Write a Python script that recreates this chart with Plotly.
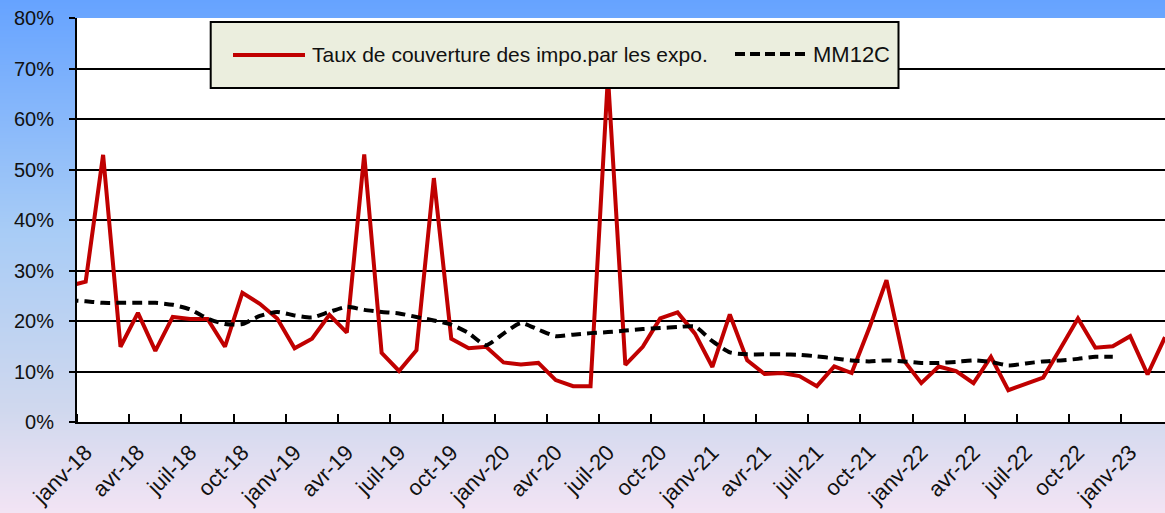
import base64
import struct
import zlib

import plotly.graph_objects as go

# ---- data -------------------------------------------------------------
mois = [
    "déc-17",
    "janv-18", "févr-18", "mars-18", "avr-18", "mai-18", "juin-18",
    "juil-18", "août-18", "sept-18", "oct-18", "nov-18", "déc-18",
    "janv-19", "févr-19", "mars-19", "avr-19", "mai-19", "juin-19",
    "juil-19", "août-19", "sept-19", "oct-19", "nov-19", "déc-19",
    "janv-20", "févr-20", "mars-20", "avr-20", "mai-20", "juin-20",
    "juil-20", "août-20", "sept-20", "oct-20", "nov-20", "déc-20",
    "janv-21", "févr-21", "mars-21", "avr-21", "mai-21", "juin-21",
    "juil-21", "août-21", "sept-21", "oct-21", "nov-21", "déc-21",
    "janv-22", "févr-22", "mars-22", "avr-22", "mai-22", "juin-22",
    "juil-22", "août-22", "sept-22", "oct-22", "nov-22", "déc-22",
    "janv-23", "févr-23", "mars-23",
]

# Taux de couverture des importations par les exportations (%)
taux = [
    26.9,
    27.8, 52.9, 14.9, 21.6, 14.1, 20.8, 20.4, 20.4, 14.9, 25.6, 23.4, 20.5,
    14.6, 16.5, 21.2, 17.7, 53.0, 13.7, 10.1, 14.2, 48.3, 16.5, 14.6, 14.9,
    11.8, 11.4, 11.7, 8.3, 7.1, 7.1, 68.5, 11.3, 14.9, 20.5, 21.7, 17.5,
    10.9, 21.3, 12.2, 9.5, 9.7, 9.1, 7.1, 11.0, 9.7, 18.5, 28.1, 12.2,
    7.7, 11.0, 10.1, 7.7, 12.9, 6.3, 7.5, 8.8, 14.6, 20.5, 14.7, 15.0,
    17.0, 9.4, 16.8,
]

# Moyenne mobile sur 12 mois centrée (%), déc-17 à déc-22
mm12c = [
    24.1,
    23.9, 23.6, 23.6, 23.6, 23.6, 23.2, 22.3, 20.5, 19.4, 19.4, 21.0, 21.8,
    21.1, 20.7, 21.8, 22.8, 22.2, 21.8, 21.5, 20.8, 20.1, 19.3, 17.6, 15.2,
    17.5, 19.6, 18.3, 17.0, 17.3, 17.6, 17.8, 18.1, 18.4, 18.6, 18.8, 18.9,
    16.0, 13.8, 13.4, 13.4, 13.4, 13.3, 13.0, 12.6, 12.2, 12.0, 12.2, 12.0,
    11.7, 11.7, 11.9, 12.2, 11.9, 11.2, 11.6, 12.0, 12.2, 12.5, 12.9, 12.9,
]

serie_taux = "Taux de couverture des impo.par les expo."
serie_mm = "MM12C"

# ---- geometry ---------------------------------------------------------
W, H = 1165, 513
ML, MR, MT, MB = 77, 0, 18, 91
PW, PH = W - ML - MR, H - MT - MB

# month index: janv-18 = 0
x_all = list(range(-1, len(mois) - 1))
x_mm = x_all[: len(mm12c)]
first = mois.index("janv-18")
tick_idx = list(range(0, x_all[-1] - 1, 3))
tick_txt = [mois[first + k] for k in tick_idx]
boundaries = [k - 0.5 for k in range(0, x_all[-1], 3)]


def px_x(p):
    return (p - ML) / PW


def px_y(p):
    return (H - MB - p) / PH


# ---- vertical background gradient as an inline PNG ---------------------
def gradient_png(height, stops):
    rows = b""
    for r in range(height):
        t = r / (height - 1)
        for (t0, c0), (t1, c1) in zip(stops[:-1], stops[1:]):
            if t0 <= t <= t1:
                f = (t - t0) / (t1 - t0)
                c = [round(a + (b - a) * f) for a, b in zip(c0, c1)]
                break
        rows += b"\x00" + bytes(c) * 2

    def chunk(tag, data):
        body = tag + data
        return struct.pack(">I", len(data)) + body + struct.pack(">I", zlib.crc32(body) & 0xFFFFFFFF)

    ihdr = struct.pack(">IIBBBBB", 2, height, 8, 2, 0, 0, 0)
    png = b"\x89PNG\r\n\x1a\n" + chunk(b"IHDR", ihdr) + chunk(b"IDAT", zlib.compress(rows, 9)) + chunk(b"IEND", b"")
    return "data:image/png;base64," + base64.b64encode(png).decode()


bg = gradient_png(H, [
    (0.0, (102, 163, 255)),
    (0.45, (168, 204, 246)),
    (0.8, (208, 216, 238)),
    (1.0, (242, 228, 244)),
])

# ---- figure -----------------------------------------------------------
fig = go.Figure()
fig.add_trace(go.Scatter(
    x=x_all, y=taux, mode="lines", name=serie_taux,
    line=dict(color="#C00000", width=4), showlegend=False,
))
fig.add_trace(go.Scatter(
    x=x_mm, y=mm12c, mode="lines", name=serie_mm,
    line=dict(color="black", width=4, dash="10px,6px", shape="spline", smoothing=0.6),
    showlegend=False,
))

font = "Liberation Sans, Arial, sans-serif"

fig.update_layout(
    width=W, height=H,
    margin=dict(l=ML, r=MR, t=MT, b=MB, pad=0, autoexpand=False),
    paper_bgcolor="rgba(0,0,0,0)",
    plot_bgcolor="white",
    font=dict(family=font, size=20, color="#111111"),
    images=[dict(
        source=bg, xref="paper", yref="paper",
        x=-ML / PW, y=1 + MT / PH, sizex=W / PW, sizey=H / PH,
        xanchor="left", yanchor="top", sizing="stretch", layer="below",
    )],
    xaxis=dict(
        range=[-0.5, x_all[-1]], showline=True, linecolor="black", linewidth=2,
        tickmode="array", tickvals=tick_idx, ticktext=tick_txt, ticks="",
        tickangle=-45, ticklabelstandoff=7, showgrid=False, zeroline=False,
        tickfont=dict(size=22), automargin=False,
        minor=dict(tickmode="array", tickvals=boundaries, ticks="inside",
                   ticklen=8, tickwidth=2, tickcolor="black", showgrid=False),
    ),
    yaxis=dict(
        range=[0, 80], dtick=10, ticksuffix="%", showline=True, linecolor="black",
        linewidth=2, ticks="outside", ticklen=6, tickwidth=2, tickcolor="black",
        showgrid=True, gridcolor="black", gridwidth=2, zeroline=False,
        ticklabelstandoff=11, tickfont=dict(size=20), automargin=False,
    ),
    shapes=[
        # white plot area over the gradient
        dict(type="rect", xref="paper", yref="paper", x0=0, x1=1, y0=0, y1=1,
             fillcolor="white", line=dict(width=0), layer="below"),
        # legend box
        dict(type="rect", xref="paper", yref="paper",
             x0=px_x(210.7), x1=px_x(898.5), y0=px_y(88), y1=px_y(22),
             fillcolor="#EBEEDE", line=dict(color="black", width=2), layer="above"),
        dict(type="line", xref="paper", yref="paper",
             x0=px_x(233), x1=px_x(305), y0=px_y(55), y1=px_y(55),
             line=dict(color="#C00000", width=4), layer="above"),
        dict(type="line", xref="paper", yref="paper",
             x0=px_x(735), x1=px_x(806), y0=px_y(54), y1=px_y(54),
             line=dict(color="black", width=4, dash="10px,5px"), layer="above"),
    ],
    annotations=[
        dict(text=serie_taux, xref="paper", yref="paper", x=px_x(310), y=px_y(55),
             xanchor="left", yanchor="middle", showarrow=False,
             font=dict(family=font, size=21, color="#111111")),
        dict(text=serie_mm, xref="paper", yref="paper", x=px_x(811), y=px_y(55),
             xanchor="left", yanchor="middle", showarrow=False,
             font=dict(family=font, size=22, color="#111111")),
    ],
)

fig.write_html("out.html")
